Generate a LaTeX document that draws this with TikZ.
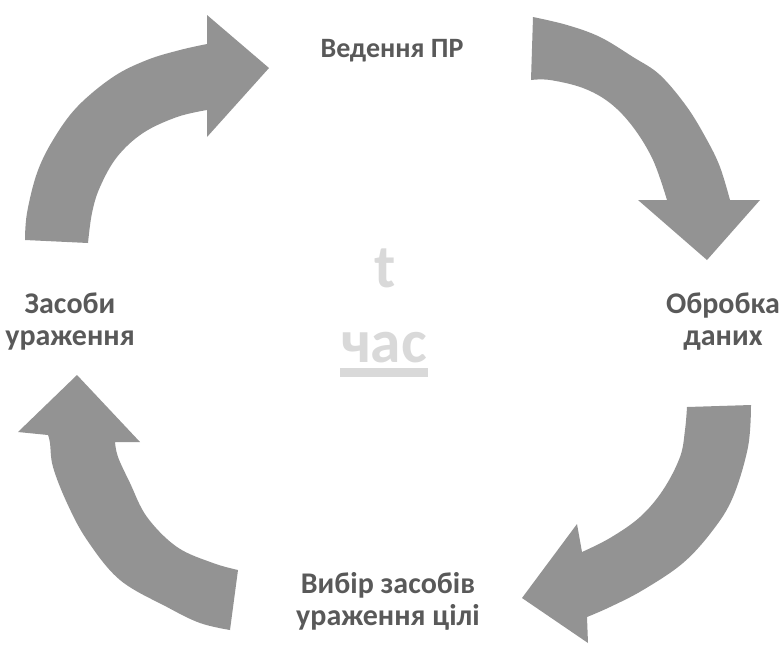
\documentclass[tikz,border=0pt]{standalone}
\usepackage{fontspec}
\setmainfont{Carlito}
\definecolor{arrowgray}{HTML}{939393}
\definecolor{labelgray}{HTML}{595959}
\definecolor{centergray}{HTML}{D9D9D9}
\begin{document}
\begin{tikzpicture}[x=0.75pt,y=-0.75pt,
  cyclearrow/.style={fill=arrowgray},
  lbl/.style={text=labelgray,font=\fontsize{22.5pt}{24pt}\selectfont\bfseries,align=center,inner sep=0pt,anchor=base},
  ctr/.style={text=centergray,font=\fontsize{46pt}{50pt}\selectfont\bfseries,inner sep=0pt,anchor=base}]
\useasboundingbox (0,0) rectangle (782,644);
% top-left arrow
\fill[cyclearrow] plot[smooth,tension=0.6] coordinates {(25,240) (27,213) (37,173) (53,140) (77,107) (113,77) (147,60) (180,50) (207,44)}
  -- (207,15) -- (269,68) -- (207,137) -- (207,110)
  -- plot[smooth,tension=0.6] coordinates {(207,110) (177,117) (143,133) (117,157) (100,187) (92,213) (88,243)} -- cycle;
% top-right arrow
\fill[cyclearrow] plot[smooth,tension=0.6] coordinates {(533,17) (567,25) (600,37) (633,57) (660,75) (687,107) (707,140) (720,167) (730,200)}
  -- (760,200) -- (707,260) -- (638,200) -- (667,200)
  -- plot[smooth,tension=0.6] coordinates {(667,200) (653,160) (633,127) (610,103) (583,88) (550,80) (531,80)} -- cycle;
% bottom-right arrow
\fill[cyclearrow] plot[smooth,tension=0.6] coordinates {(751,405) (748,447) (733,497) (713,530) (683,563) (643,590) (610,607) (587,617)}
  -- (588,643) -- (522,598) -- (577,524) -- (582,552)
  -- plot[smooth,tension=0.6] coordinates {(582,552) (610,538) (640,517) (663,490) (680,457) (685,430) (687,407)} -- cycle;
% bottom-left arrow
\fill[cyclearrow] plot[smooth,tension=0.6] coordinates {(230,630) (200,623) (167,607) (120,580) (87,540) (67,503) (53,467) (50,443) (48,435)}
  -- (18,432) -- (77,375) -- (140,442) -- (115,442)
  -- plot[smooth,tension=0.6] coordinates {(115,442) (118,457) (130,483) (147,517) (177,547) (213,563) (238,570)} -- cycle;
% labels
\node[lbl,font=\fontsize{21pt}{24pt}\selectfont\bfseries] (top) at (392,57) {Ведення ПР};
\node[lbl] (left) at (70,345) {Засоби\\ураження};
\node[lbl] (right) at (723,345) {Обробка\\даних};
\node[lbl] (bottom) at (388,625) {Вибір засобів\\ураження цілі};
% centre
\node[ctr] (t) at (385,287) {t};
\node[ctr] (chas) at (384,362) {час};
\fill[centergray] (340,368) rectangle (428,377);
\end{tikzpicture}
\end{document}
